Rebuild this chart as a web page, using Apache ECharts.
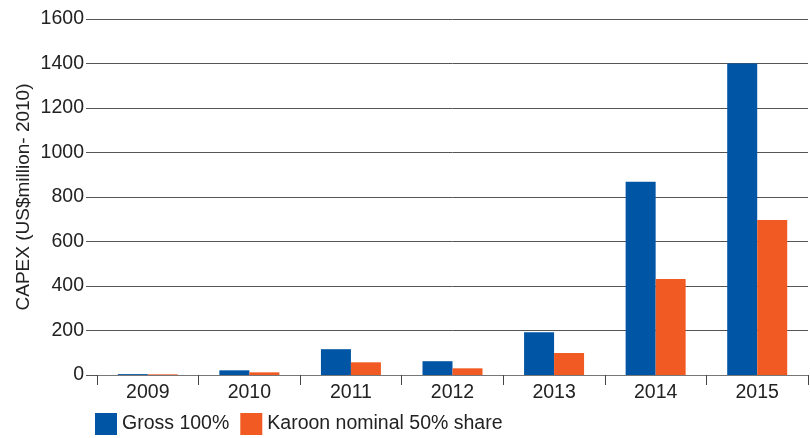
<!DOCTYPE html>
<html>
<head>
<meta charset="utf-8">
<script src="https://cdn.jsdelivr.net/npm/echarts@6/dist/echarts.min.js"></script>
<style>
  html, body { margin: 0; padding: 0; background: #fff; }
  #chart { width: 810px; height: 438px; }
</style>
</head>
<body>
<div id="chart"></div>
<script>
const years = ['2009', '2010', '2011', '2012', '2013', '2014', '2015']
const gross = [4, 21, 116, 62, 192, 868, 1400]
const karoon = [3, 12, 57, 30, 99, 432, 697]

const fontFamily = '"Liberation Sans", Arial, Helvetica, sans-serif'
const lineColor = '#555'

const chart = echarts.init(document.getElementById('chart'))

const option = {
  animation: false,
  textStyle: { fontFamily: fontFamily },
  grid: {
    left: 97,
    right: 2,
    top: 19,
    bottom: 63
  },
  legend: {
    left: 90,
    top: 408,
    icon: 'rect',
    itemWidth: 22,
    itemHeight: 22,
    itemGap: 11,
    textStyle: {
      fontSize: 19.5,
      color: '#222',
      fontFamily: fontFamily
    }
  },
  xAxis: {
    type: 'category',
    data: years,
    axisLine: { lineStyle: { color: '#777', width: 1 } },
    axisTick: {
      show: true,
      length: 10,
      lineStyle: { color: '#444' }
    },
    axisLabel: {
      margin: 8,
      fontSize: 19.5,
      color: '#222',
      fontFamily: fontFamily
    }
  },
  yAxis: {
    type: 'value',
    min: 0,
    max: 1600,
    interval: 200,
    name: 'CAPEX (US$million- 2010)',
    nameLocation: 'middle',
    nameRotate: 90,
    nameGap: 64,
    nameMoveOverlap: false,
    nameTextStyle: {
      fontSize: 19,
      color: '#222',
      fontFamily: fontFamily
    },
    axisLine: { show: false },
    axisTick: {
      show: true,
      length: 11,
      lineStyle: { color: lineColor }
    },
    axisLabel: {
      margin: 13,
      fontSize: 19.5,
      color: '#222',
      fontFamily: fontFamily,
      formatter: function (v) { return String(v) }
    },
    splitLine: {
      lineStyle: { color: lineColor, width: 1 }
    }
  },
  series: [
    {
      name: 'Gross 100%',
      type: 'bar',
      data: gross,
      barWidth: 30,
      barGap: '0%',
      itemStyle: { color: '#0055A5' }
    },
    {
      name: 'Karoon nominal 50% share',
      type: 'bar',
      data: karoon,
      barWidth: 30,
      barGap: '0%',
      itemStyle: { color: '#F15A22' }
    }
  ]
}

chart.setOption(option)
</script>
</body>
</html>
